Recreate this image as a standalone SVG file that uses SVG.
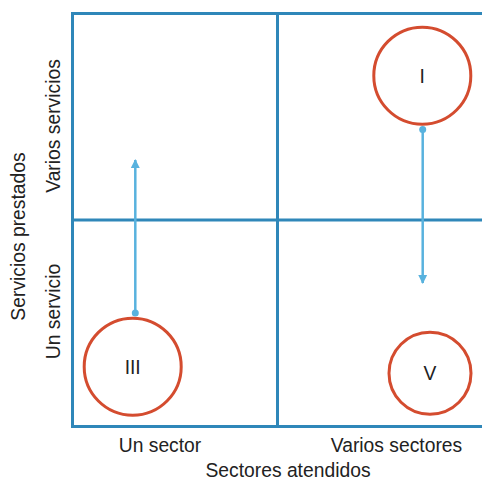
<svg xmlns="http://www.w3.org/2000/svg" width="482" height="482" viewBox="0 0 482 482">
<style>
.grid{stroke:#2f87b9;stroke-width:3;fill:none}
.node{fill:#fff;stroke:#d44c2f;stroke-width:3}
.lbl{font-family:"Liberation Sans",Arial,sans-serif;font-size:19.3px;fill:#222;text-anchor:middle}
.conn{stroke:#58b2de;stroke-width:2.5;fill:none}
</style>
<defs>
<marker id="ah" viewBox="0 0 10 10" refX="9" refY="5" markerWidth="3.6" markerHeight="4" orient="auto" markerUnits="strokeWidth">
<path d="M0,0 L10,5 L0,10 Z" fill="#58b2de"/>
</marker>
</defs>
<g id="frame">
<path class="grid" d="M482,13.5 H72.5 V426.5 H482 M277.5,13.5 V426.5 M72.5,220 H482"/>
</g>
<g id="axis-labels">
<text class="lbl" x="160" y="452">Un sector</text>
<text class="lbl" x="396.5" y="452">Varios sectores</text>
<text class="lbl" x="288" y="477">Sectores atendidos</text>
<text class="lbl" transform="translate(25,236.5) rotate(-90)">Servicios prestados</text>
<text class="lbl" transform="translate(60,126) rotate(-90)">Varios servicios</text>
<text class="lbl" transform="translate(60,311.5) rotate(-90)">Un servicio</text>
</g>
<g id="connectors">
<line class="conn" x1="135.3" y1="313" x2="135.3" y2="160" marker-end="url(#ah)"/>
<circle cx="135.3" cy="313" r="3.5" fill="#58b2de"/>
<line class="conn" x1="422.7" y1="129.5" x2="422.7" y2="283" marker-end="url(#ah)"/>
<circle cx="422.7" cy="129.5" r="3.5" fill="#58b2de"/>
</g>
<g id="node-I">
<circle class="node" cx="422.3" cy="75.7" r="48.5"/>
<text class="lbl" x="422.3" y="82.5">I</text>
</g>
<g id="node-III">
<circle class="node" cx="132.7" cy="366.7" r="48.5"/>
<text class="lbl" x="132.7" y="373.5">III</text>
</g>
<g id="node-V">
<circle class="node" cx="430" cy="373.3" r="41"/>
<text class="lbl" x="430" y="380">V</text>
</g>
</svg>
